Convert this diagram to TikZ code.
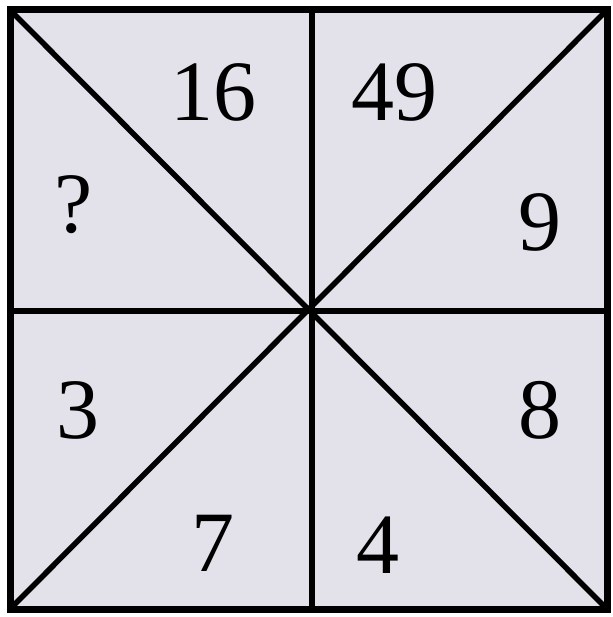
\documentclass[tikz,border=0pt]{standalone}
\usepackage{fontspec}
\setmainfont{Liberation Serif}
\definecolor{bgc}{HTML}{E3E2EB}
\begin{document}
\begin{tikzpicture}[x=1pt,y=-1pt,
  outer/.style={draw=black,line width=7pt,fill=bgc},
  inner/.style={draw=black,line width=5.5pt},
  num/.style={font=\fontsize{86}{86}\selectfont,inner sep=0pt}]
\useasboundingbox (0,0) rectangle (612,617);
\coordinate (tl) at (10,10);
\coordinate (tr) at (607,10);
\coordinate (br) at (607,609);
\coordinate (bl) at (10,609);
\coordinate (c) at (312,311);
\coordinate (tm) at (312,10);
\coordinate (bm) at (312,609);
\coordinate (lm) at (10,311);
\coordinate (rm) at (607,311);
\draw[outer] (tl) rectangle (br);
\draw[inner] (tl) -- (br);
\draw[inner] (tr) -- (bl);
\draw[inner] (tm) -- (bm);
\draw[inner] (lm) -- (rm);
\node[num] (n16) at (213,92) {16};
\node[num] (n49) at (394,92) {49};
\node[num] (nq) at (74,205) {?};
\node[num] (n9) at (540,222) {9};
\node[num] (n3) at (78,410) {3};
\node[num] (n8) at (540,410) {8};
\node[num] (n7) at (213,543) {7};
\node[num] (n4) at (378,545) {4};
\end{tikzpicture}
\end{document}
